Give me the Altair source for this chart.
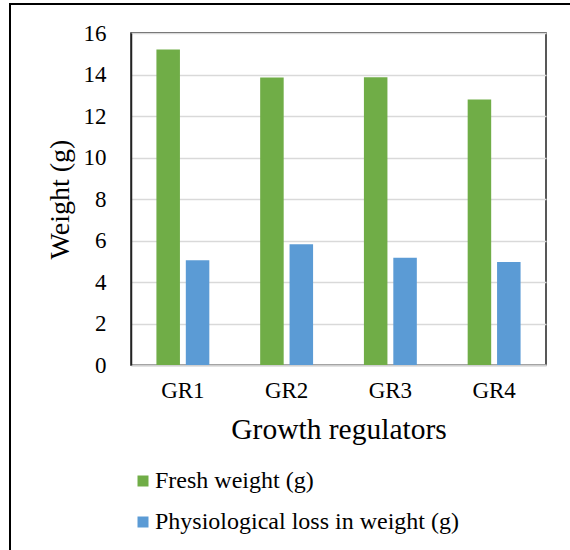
import altair as alt
import pandas as pd

categories = ["GR1", "GR2", "GR3", "GR4"]
series_names = ["Fresh weight (g)", "Physiological loss in weight (g)"]
fresh_weight = [15.2, 13.85, 13.87, 12.8]
pliw = [5.05, 5.82, 5.17, 4.96]
colors = ["#70AD47", "#5B9BD5"]
y_ticks = [0, 2, 4, 6, 8, 10, 12, 14, 16]

rows = []
for c, f, p in zip(categories, fresh_weight, pliw):
    rows.append({"cat": c, "series": series_names[0], "value": f})
    rows.append({"cat": c, "series": series_names[1], "value": p})
df = pd.DataFrame(rows)

FONT = "Liberation Serif"

bars = alt.Chart(df).mark_bar().encode(
    x=alt.X("cat:N", sort=categories,
            scale=alt.Scale(paddingInner=0.49, paddingOuter=0.245),
            axis=alt.Axis(title="Growth regulators", labelAngle=0, ticks=False,
                          labelFontSize=23, titleFontSize=29.5, labelPadding=14,
                          titlePadding=13, domainColor="#d0d0d0", domainWidth=2,
                          labelColor="black", titleColor="black",
                          titleFontWeight="normal")),
    xOffset=alt.XOffset("series:N", sort=series_names,
                        scale=alt.Scale(paddingInner=0.2, paddingOuter=0)),
    y=alt.Y("value:Q", scale=alt.Scale(domain=[0, 16]),
            axis=alt.Axis(title="Weight (g)", values=y_ticks, ticks=False,
                          labelFontSize=23, titleFontSize=28, labelPadding=25,
                          titlePadding=9, domainColor="#222222", domainWidth=1.5,
                          gridColor="#d9d9d9", gridWidth=1.5,
                          labelColor="black", titleColor="black",
                          titleFontWeight="normal")),
    color=alt.Color("series:N", sort=series_names,
                    scale=alt.Scale(domain=series_names, range=colors),
                    legend=alt.Legend(title=None, orient="none", legendX=0, legendY=436,
                                      direction="vertical", symbolType="square",
                                      symbolSize=121, symbolStrokeWidth=0,
                                      labelFontSize=24, labelColor="black",
                                      labelOffset=0, rowPadding=17, labelLimit=400)),
)

frame = alt.Chart(pd.DataFrame({"a": [0]})).mark_rect(
    fill=None, stroke="black", strokeWidth=2
).encode(
    x=alt.value(-121), x2=alt.value(460), y=alt.value(-29), y2=alt.value(540)
)

chart = alt.layer(bars, frame).properties(
    width=415, height=332,
    autosize=alt.AutoSizeParams(type="none"),
    padding={"left": 131, "top": 33, "right": 24, "bottom": 185},
).configure(font=FONT).configure_view(
    stroke="#222222", strokeWidth=1.5
)

chart.save("out.html", embed_options={"renderer": "svg", "actions": False})
